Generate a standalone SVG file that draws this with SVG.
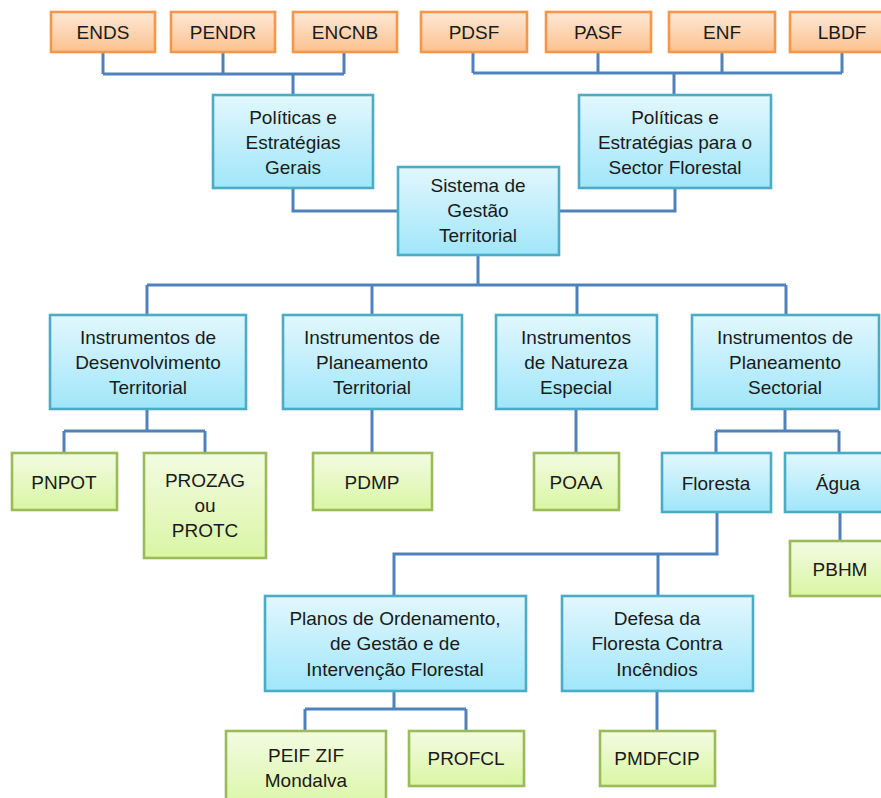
<svg xmlns="http://www.w3.org/2000/svg" width="881" height="798" viewBox="0 0 881 798">
<defs>
<linearGradient id="gO" x1="0" y1="0" x2="0" y2="1"><stop offset="0" stop-color="#FEE8D6"/><stop offset="1" stop-color="#FBC18F"/></linearGradient>
<linearGradient id="gB" x1="0" y1="0" x2="0" y2="1"><stop offset="0" stop-color="#E2F7FD"/><stop offset="1" stop-color="#A0E6FA"/></linearGradient>
<linearGradient id="gG" x1="0" y1="0" x2="0" y2="1"><stop offset="0" stop-color="#F3FBE2"/><stop offset="1" stop-color="#D9F6A4"/></linearGradient>
</defs>
<style>
.o{fill:url(#gO);stroke:#F79646;stroke-width:2.6}
.b{fill:url(#gB);stroke:#4BACC6;stroke-width:2.6}
.g{fill:url(#gG);stroke:#9BBB59;stroke-width:2.6}
text{font-family:"Liberation Sans",Arial,sans-serif;font-size:19px;fill:#1a1a1a;text-anchor:middle}
.c path{fill:none;stroke:#4F81BD;stroke-width:3}
</style>
<rect width="881" height="798" fill="#fff"/>
<g class="c" id="connectors">
<path d="M103 52V74M223 52V74M344 52V74M103 74H344M293 74V95"/>
<path d="M473 52V73M598 52V73M722 52V73M842 52V73M473 73H842M674 73V95"/>
<path d="M293 188V211H398"/>
<path d="M675 188V211H559"/>
<path d="M478 255V285M147 285H786M147 285V315M372 285V315M577 285V315M786 285V315"/>
<path d="M147 409V431M64 431H205M64 431V453M205 431V453"/>
<path d="M372 409V453"/>
<path d="M576 409V453"/>
<path d="M785 409V431M716 431H839M716 431V453M839 431V453"/>
<path d="M717 512V554H394V596M658 554V596"/>
<path d="M840 512V541"/>
<path d="M394 691V709M305 709H466M305 709V731M466 709V731"/>
<path d="M657 691V731"/>
</g>
<g id="ENDS"><rect class="o" x="51" y="12" width="104" height="40"/><text x="103" y="39">ENDS</text></g>
<g id="PENDR"><rect class="o" x="171" y="12" width="104" height="40"/><text x="223" y="39">PENDR</text></g>
<g id="ENCNB"><rect class="o" x="293" y="12" width="104" height="40"/><text x="345" y="39">ENCNB</text></g>
<g id="PDSF"><rect class="o" x="421" y="12" width="106" height="40"/><text x="474" y="39">PDSF</text></g>
<g id="PASF"><rect class="o" x="546" y="12" width="105" height="40"/><text x="598" y="39">PASF</text></g>
<g id="ENF"><rect class="o" x="669" y="12" width="106" height="40"/><text x="722" y="39">ENF</text></g>
<g id="LBDF"><rect class="o" x="790" y="12" width="105" height="40"/><text x="842" y="39">LBDF</text></g>
<g id="PEG"><rect class="b" x="213" y="95" width="160" height="93"/><text x="293" y="124">Políticas e</text><text x="293" y="149">Estratégias</text><text x="293" y="174">Gerais</text></g>
<g id="PESF"><rect class="b" x="579" y="95" width="192" height="93"/><text x="675" y="124">Políticas e</text><text x="675" y="149">Estratégias para o</text><text x="675" y="174">Sector Florestal</text></g>
<g id="SGT"><rect class="b" x="398" y="167" width="161" height="88"/><text x="478" y="192">Sistema de</text><text x="478" y="217">Gestão</text><text x="478" y="242">Territorial</text></g>
<g id="IDT"><rect class="b" x="50" y="315" width="196" height="94"/><text x="148" y="344">Instrumentos de</text><text x="148" y="369">Desenvolvimento</text><text x="148" y="394">Territorial</text></g>
<g id="IPT"><rect class="b" x="283" y="315" width="179" height="94"/><text x="372" y="344">Instrumentos de</text><text x="372" y="369">Planeamento</text><text x="372" y="394">Territorial</text></g>
<g id="INE"><rect class="b" x="496" y="315" width="161" height="94"/><text x="576" y="344">Instrumentos</text><text x="576" y="369">de Natureza</text><text x="576" y="394">Especial</text></g>
<g id="IPS"><rect class="b" x="692" y="315" width="187" height="94"/><text x="785" y="344">Instrumentos de</text><text x="785" y="369">Planeamento</text><text x="785" y="394">Sectorial</text></g>
<g id="PNPOT"><rect class="g" x="12" y="453" width="105" height="57"/><text x="64" y="489">PNPOT</text></g>
<g id="PROZAG"><rect class="g" x="144" y="453" width="122" height="105"/><text x="205" y="487">PROZAG</text><text x="205" y="512">ou</text><text x="205" y="537">PROTC</text></g>
<g id="PDMP"><rect class="g" x="313" y="453" width="119" height="57"/><text x="372" y="489">PDMP</text></g>
<g id="POAA"><rect class="g" x="534" y="453" width="85" height="57"/><text x="576" y="489">POAA</text></g>
<g id="Floresta"><rect class="b" x="662" y="453" width="109" height="59"/><text x="716" y="490">Floresta</text></g>
<g id="Agua"><rect class="b" x="785" y="453" width="106" height="59"/><text x="838" y="490">Água</text></g>
<g id="PBHM"><rect class="g" x="790" y="541" width="100" height="55"/><text x="840" y="576">PBHM</text></g>
<g id="POGIF"><rect class="b" x="265" y="596" width="261" height="95"/><text x="395" y="625">Planos de Ordenamento,</text><text x="395" y="650">de Gestão e de</text><text x="395" y="676">Intervenção Florestal</text></g>
<g id="DFCI"><rect class="b" x="562" y="596" width="191" height="95"/><text x="657" y="625">Defesa da</text><text x="657" y="650">Floresta Contra</text><text x="657" y="676">Incêndios</text></g>
<g id="PEIF"><rect class="g" x="226" y="731" width="160" height="80"/><text x="306" y="762">PEIF ZIF</text><text x="306" y="787">Mondalva</text></g>
<g id="PROFCL"><rect class="g" x="409" y="731" width="115" height="55"/><text x="466" y="765">PROFCL</text></g>
<g id="PMDFCIP"><rect class="g" x="600" y="731" width="115" height="55"/><text x="657" y="765">PMDFCIP</text></g>
</svg>
